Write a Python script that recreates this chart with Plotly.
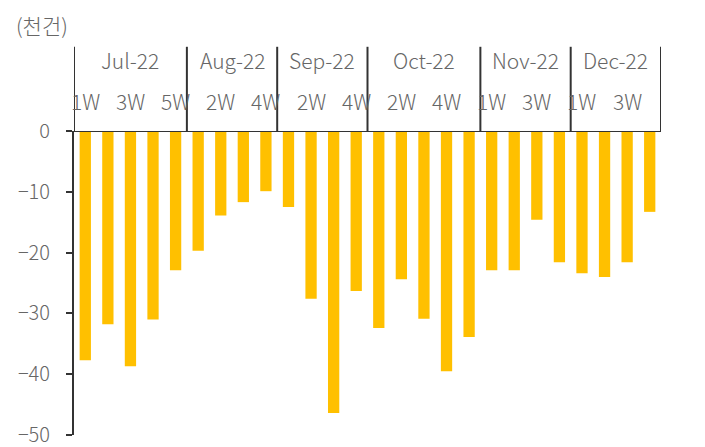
import plotly.graph_objects as go

months = ["Jul-22", "Aug-22", "Sep-22", "Oct-22", "Nov-22", "Dec-22"]
weeks_per_month = [5, 4, 4, 5, 4, 4]
week_labels = ["1W", "2W", "3W", "4W", "5W", "1W", "2W", "3W", "4W",
               "1W", "2W", "3W", "4W", "1W", "2W", "3W", "4W", "5W",
               "1W", "2W", "3W", "4W", "1W", "2W", "3W", "4W"]
values = [-37.7, -31.8, -38.7, -31.0, -22.9,
          -19.7, -13.9, -11.7, -9.9,
          -12.5, -27.6, -46.4, -26.3,
          -32.4, -24.4, -30.9, -39.5, -33.9,
          -22.9, -22.9, -14.6, -21.6,
          -23.4, -24.0, -21.6, -13.3]
unit_label = "(천건)"
y_ticks = [0, -10, -20, -30, -40, -50]

FONT = "Noto Sans CJK KR Light, Noto Sans CJK KR"
GRAY = "#666666"
LINE = "#333333"
FS = 21
FW = 300

x = list(range(len(values)))

fig = go.Figure()
fig.add_trace(go.Bar(x=x, y=values, marker_color="#FFC000", width=0.5,
                     marker_line_width=0))

shapes = []
annotations = []

# zero line extending left of axis
shapes.append(dict(type="line", xref="paper", yref="y", x0=-0.011, x1=1, y0=0, y1=0,
                   line=dict(color=LINE, width=2)))

start = 0
bounds = [-0.5]
for m, n in zip(months, weeks_per_month):
    end = start + n
    bounds.append(end - 0.5)
    annotations.append(dict(x=(start + end - 1) / 2, y=1.232, xref="x", yref="paper",
                            text=m, showarrow=False,
                            font=dict(family=FONT, size=FS, color=GRAY, weight=FW),
                            xanchor="center", yanchor="middle"))
    start = end
for b in bounds:
    shapes.append(dict(type="line", xref="x", yref="paper", x0=b, x1=b, y0=1, y1=1.277,
                       line=dict(color=LINE, width=2)))

for i, w in enumerate(week_labels):
    if i % 2 == 0:
        annotations.append(dict(x=i, y=1.1, xref="x", yref="paper", text=w,
                                showarrow=False,
                                font=dict(family=FONT, size=FS, color=GRAY, weight=FW),
                                xanchor="center", yanchor="middle"))

annotations.append(dict(x=-0.103, y=1.35, xref="paper", yref="paper", text=unit_label,
                        showarrow=False, font=dict(family=FONT, size=FS, color=GRAY, weight=FW),
                        xanchor="left", yanchor="middle"))

fig.update_layout(
    width=705, height=447,
    margin=dict(l=74, r=44, t=131, b=12, autoexpand=False),
    paper_bgcolor="white", plot_bgcolor="white",
    showlegend=False,
    shapes=shapes, annotations=annotations,
    xaxis=dict(range=[-0.5, 25.5], showticklabels=False, showgrid=False,
               zeroline=False, showline=False, ticks="", automargin=False),
    yaxis=dict(range=[-50, 0], tickvals=y_ticks,
               ticktext=[str(v).replace("-", "−") for v in y_ticks],
               showgrid=False, zeroline=False, showline=True, linecolor=LINE,
               linewidth=2, ticks="outside", ticklen=6, tickwidth=2, tickcolor=LINE,
               ticklabelstandoff=12, automargin=False, ticklabeloverflow="allow",
               tickfont=dict(family=FONT, size=20, color=GRAY, weight=FW)),
)

fig.write_html("out.html", config={"displayModeBar": False},
               post_script="document.body.style.margin='0';document.body.style.overflow='hidden';")
